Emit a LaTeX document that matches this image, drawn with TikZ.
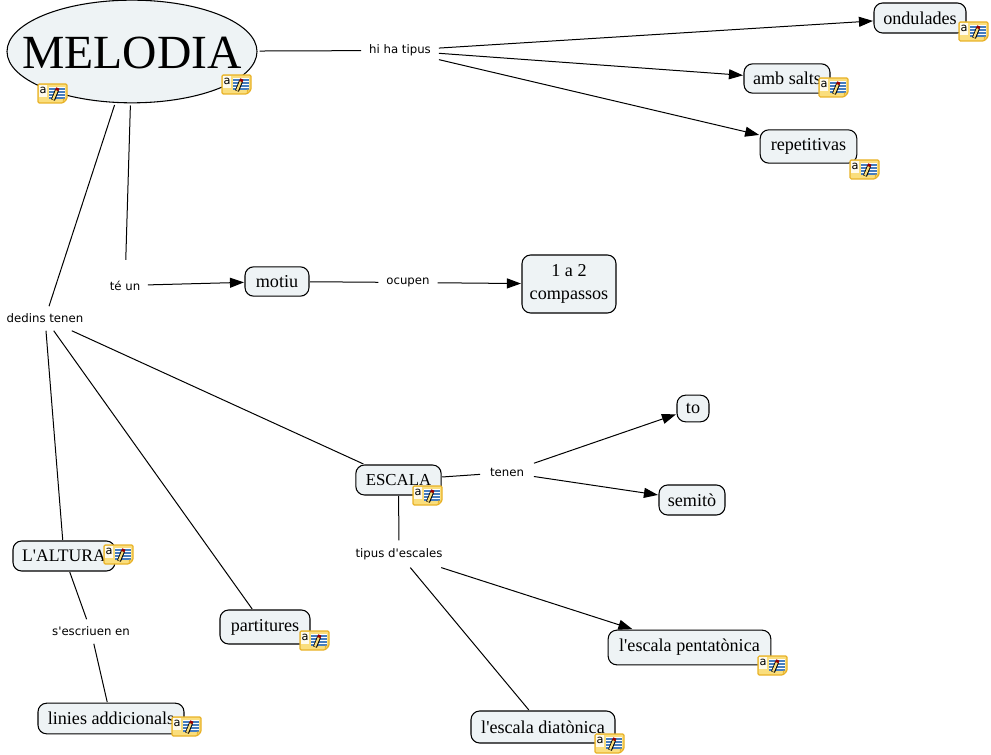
\documentclass[tikz,border=0pt]{standalone}
\usepackage{fontspec}
\newfontfamily\conceptfont{Liberation Serif}
\newfontfamily\labelfont{DejaVu Sans}
\usetikzlibrary{arrows.meta,shapes.geometric}
\definecolor{conceptfill}{RGB}{238,243,245}
\definecolor{noteyellow}{RGB}{250,222,125}
\definecolor{noteedge}{RGB}{232,178,40}
\definecolor{noteblue}{RGB}{70,125,190}

\tikzset{
  concept/.style={draw=black, line width=0.8pt, fill=conceptfill, rounded corners=6.5pt,
    inner sep=0pt, outer sep=0.8pt, align=center, font=\conceptfont\fontsize{13.6}{17.5}\selectfont},
  linktext/.style={inner sep=0pt, minimum width=44pt, minimum height=18pt,
    font=\labelfont\fontsize{8.8}{10}\selectfont},
  link/.style={line width=0.75pt},
  linkarrow/.style={line width=0.75pt, -{Triangle[length=10.5pt,width=7.5pt]}},
  noteicon/.pic={
    \draw[noteedge, line width=0.9pt, fill=noteyellow, rounded corners=1pt]
      (0,0) -- (29,0) -- (29,15) -- (25,19) -- (0,19) -- cycle;
    \fill[white!85!noteyellow] (1,1) rectangle (9,13);
    \node[text=black, inner sep=0pt, font=\labelfont\fontsize{8.5}{9}\selectfont] at (5,6.5) {a};
    \fill[white] (11,3) rectangle (27,15);
    \foreach \liney in {5,8,11,14}
      \draw[noteblue, line width=0.8pt] (11,\liney) -- (27,\liney);
    \draw[black, line width=3pt] (15,16) -- (19,6);
    \draw[noteyellow, line width=1.6pt] (15,15.5) -- (19,6);
    \draw[red!60!black, line width=2.6pt] (18.8,6.5) -- (19.8,4);
    \draw[noteedge, line width=0.6pt] (25,19) -- (25.5,15) -- (29,15);
  }
}

\begin{document}
\begin{tikzpicture}[x=0.75pt, y=-0.75pt]
  \useasboundingbox (0,0) rectangle (991,755);

  % Conceptes
  \node[ellipse, draw=black, line width=0.8pt, fill=conceptfill, inner sep=0pt, outer sep=2pt,
    minimum width=187.5pt, minimum height=77pt] (melodia) at (132,51.5) {};
  \node[inner sep=0pt, font=\conceptfont\fontsize{35.7}{40}\selectfont] (melodiatext) at (132,53) {MELODIA};
  \node[concept, minimum width=69pt, minimum height=22.5pt] (ondulades) at (920,18) {ondulades};
  \node[concept, minimum width=64.5pt, minimum height=22pt] (salts) at (787,78.5) {amb salts};
  \node[concept, minimum width=72.5pt, minimum height=25pt] (repetitivas) at (808.5,146.5) {repetitivas};
  \node[concept, minimum width=48pt, minimum height=22pt] (motiu) at (277,281.5) {motiu};
  \node[concept, minimum width=70.5pt, minimum height=43.5pt] (compassos) at (569,284) {1 a 2\\compassos};
  \node[concept, minimum width=24pt, minimum height=20pt] (to) at (693,408.5) {to};
  \node[concept, minimum width=49.5pt, minimum height=22.5pt] (semito) at (692,500) {semitò};
  \node[concept, minimum width=64pt, minimum height=22.5pt, font=\conceptfont\fontsize{12.6}{16}\selectfont] (escala) at (398.5,480) {ESCALA};
  \node[concept, minimum width=76.5pt, minimum height=22.5pt, font=\conceptfont\fontsize{13.2}{16}\selectfont] (altura) at (64,556) {L'ALTURA};
  \node[concept, minimum width=67.5pt, minimum height=25.5pt] (partitures) at (265,627) {partitures};
  \node[concept, minimum width=109.5pt, minimum height=23pt] (addicionals) at (111,718.5) {linies addicionals};
  \node[concept, minimum width=122pt, minimum height=26pt] (pentatonica) at (689.5,647.5) {l'escala pentatònica};
  \node[concept, minimum width=108pt, minimum height=24pt] (diatonica) at (543,727) {l'escala diatònica};

  % Textos dels enllacos
  \node[linktext, minimum width=58pt] (hihatipus) at (400,50.5) {hi ha tipus};
  \node[linktext, minimum width=34pt, minimum height=38pt] (teun) at (125,285.5) {té un};
  \node[linktext, minimum width=44pt] (ocupen) at (408,282.5) {ocupen};
  \node[linktext, minimum width=72pt] (dedinstenen) at (45,318.5) {dedins tenen};
  \node[linktext, minimum width=40pt] (tenen) at (507,472.5) {tenen};
  \node[linktext, minimum width=84pt, minimum height=20pt] (tipusescales) at (399,554) {tipus d'escales};
  \node[linktext, minimum width=74pt] (sescriuen) at (91,631.5) {s'escriuen en};

  % Enllacos
  \draw[link] (melodia) -- (hihatipus);
  \draw[linkarrow] (hihatipus) -- (ondulades);
  \draw[linkarrow] (hihatipus) -- (salts);
  \draw[linkarrow] (hihatipus) -- (repetitivas);
  \draw[link] (melodia) -- (teun);
  \draw[linkarrow] (teun) -- (motiu);
  \draw[link] (motiu) -- (ocupen);
  \draw[linkarrow] (ocupen) -- (compassos);
  \draw[link] (melodia) -- (dedinstenen);
  \draw[link] (dedinstenen) -- (altura);
  \draw[link] (dedinstenen) -- (partitures);
  \draw[link] (dedinstenen) -- (escala);
  \draw[link] (escala) -- (tenen);
  \draw[linkarrow] (tenen) -- (to);
  \draw[linkarrow] (tenen) -- (semito);
  \draw[link] (escala) -- (tipusescales);
  \draw[linkarrow] (tipusescales) -- (pentatonica);
  \draw[link] (tipusescales) -- (diatonica);
  \draw[link] (altura) -- (sescriuen);
  \draw[link] (sescriuen) -- (addicionals);

  % Icones de nota
  \foreach \iconx/\icony in {38/84, 222/75, 959/22, 819/78, 850/160, 413/486,
      104/545, 300/631, 172/717, 758/656, 595/734}
    \pic at (\iconx,\icony) {noteicon};
\end{tikzpicture}
\end{document}
